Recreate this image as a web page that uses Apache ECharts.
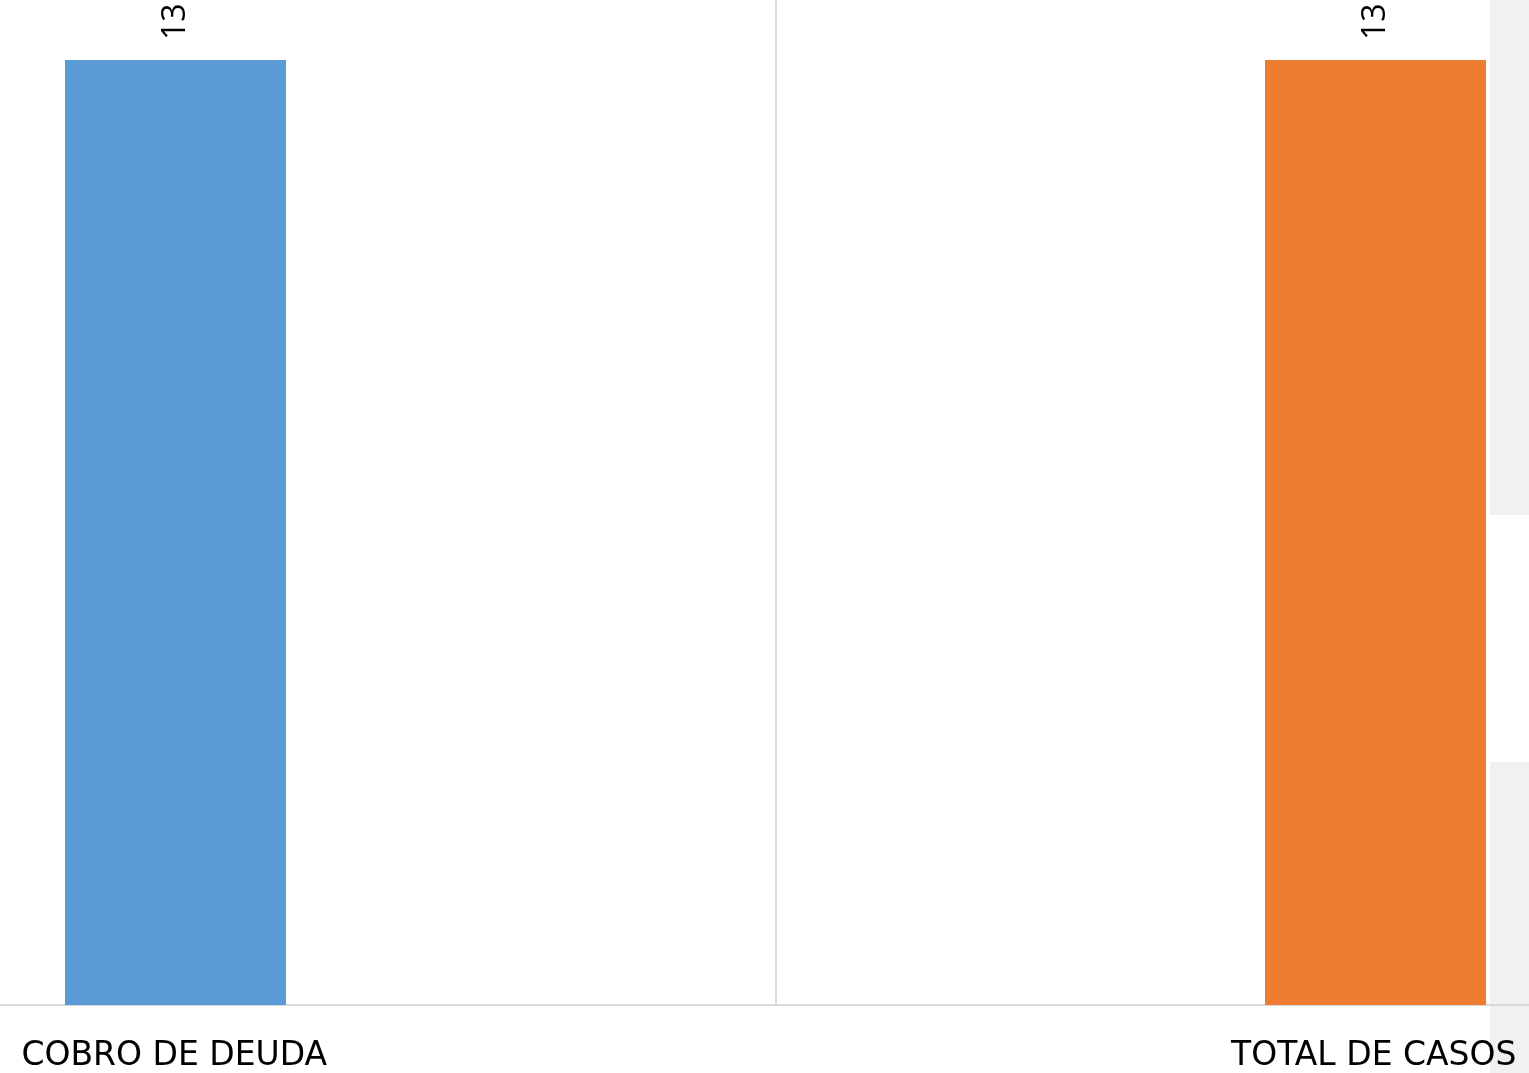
<!DOCTYPE html>
<html>
<head>
<meta charset="utf-8">
<script src="https://cdn.jsdelivr.net/npm/echarts@6/dist/echarts.min.js"></script>
<style>
  html, body { margin: 0; padding: 0; background: #fff; overflow: hidden; }
  /* el gráfico original está recortado a la derecha */
  #chart { width: 1551px; height: 1073px; }
</style>
</head>
<body>
<div id="chart"></div>
<script>
// datos
const categories = ['COBRO DE DEUDA', 'TOTAL DE CASOS']
const cobroValues = [13, '-']
const totalValues = ['-', 13]

const chart = echarts.init(document.getElementById('chart'))

const barLabel = {
  show: true,
  position: 'top',
  rotate: 90,
  align: 'left',
  verticalAlign: 'middle',
  distance: 20,
  fontFamily: 'Open Sans',
  fontSize: 32,
  color: '#000'
}

const option = {
  animation: false,
  backgroundColor: '#fff',
  grid: {
    left: 0,
    right: 0,
    top: 0,
    bottom: 68
  },
  xAxis: {
    type: 'category',
    data: categories,
    axisLine: { lineStyle: { color: '#d9d9d9', width: 2 } },
    axisTick: { show: false },
    splitLine: {
      show: true,
      showMinLine: false,
      showMaxLine: false,
      lineStyle: { color: '#d9d9d9', width: 2 }
    },
    axisLabel: {
      margin: 35,
      color: '#000',
      formatter: (v, i) => (i === 0 ? '{a|' + v + '}' : '{b|' + v + '}'),
      rich: {
        a: { fontFamily: 'DejaVu Sans', fontSize: 33, color: '#000', padding: [0, 427, 0, 0] },
        b: { fontFamily: 'DejaVu Sans', fontSize: 33, color: '#000', padding: [0, 0, 0, 421] }
      }
    }
  },
  yAxis: {
    type: 'value',
    min: 0,
    max: 13.825,
    show: false,
    splitLine: { show: false }
  },
  series: [
    {
      name: 'COBRO DE DEUDA',
      type: 'bar',
      data: cobroValues,
      barWidth: 221,
      barGap: '92.1%',
      itemStyle: { color: '#5B9BD5' },
      label: barLabel
    },
    {
      name: 'TOTAL DE CASOS',
      type: 'bar',
      data: totalValues,
      barWidth: 221,
      itemStyle: { color: '#ED7D31' },
      label: barLabel
    }
  ],
  graphic: [
    { type: 'rect', z: -1, shape: { x: 1490, y: 0, width: 61, height: 515 }, style: { fill: '#f0f1f1' } },
    { type: 'rect', z: -1, shape: { x: 1490, y: 762, width: 61, height: 311 }, style: { fill: '#f0f1f1' } }
  ]
}

chart.setOption(option)
</script>
</body>
</html>
